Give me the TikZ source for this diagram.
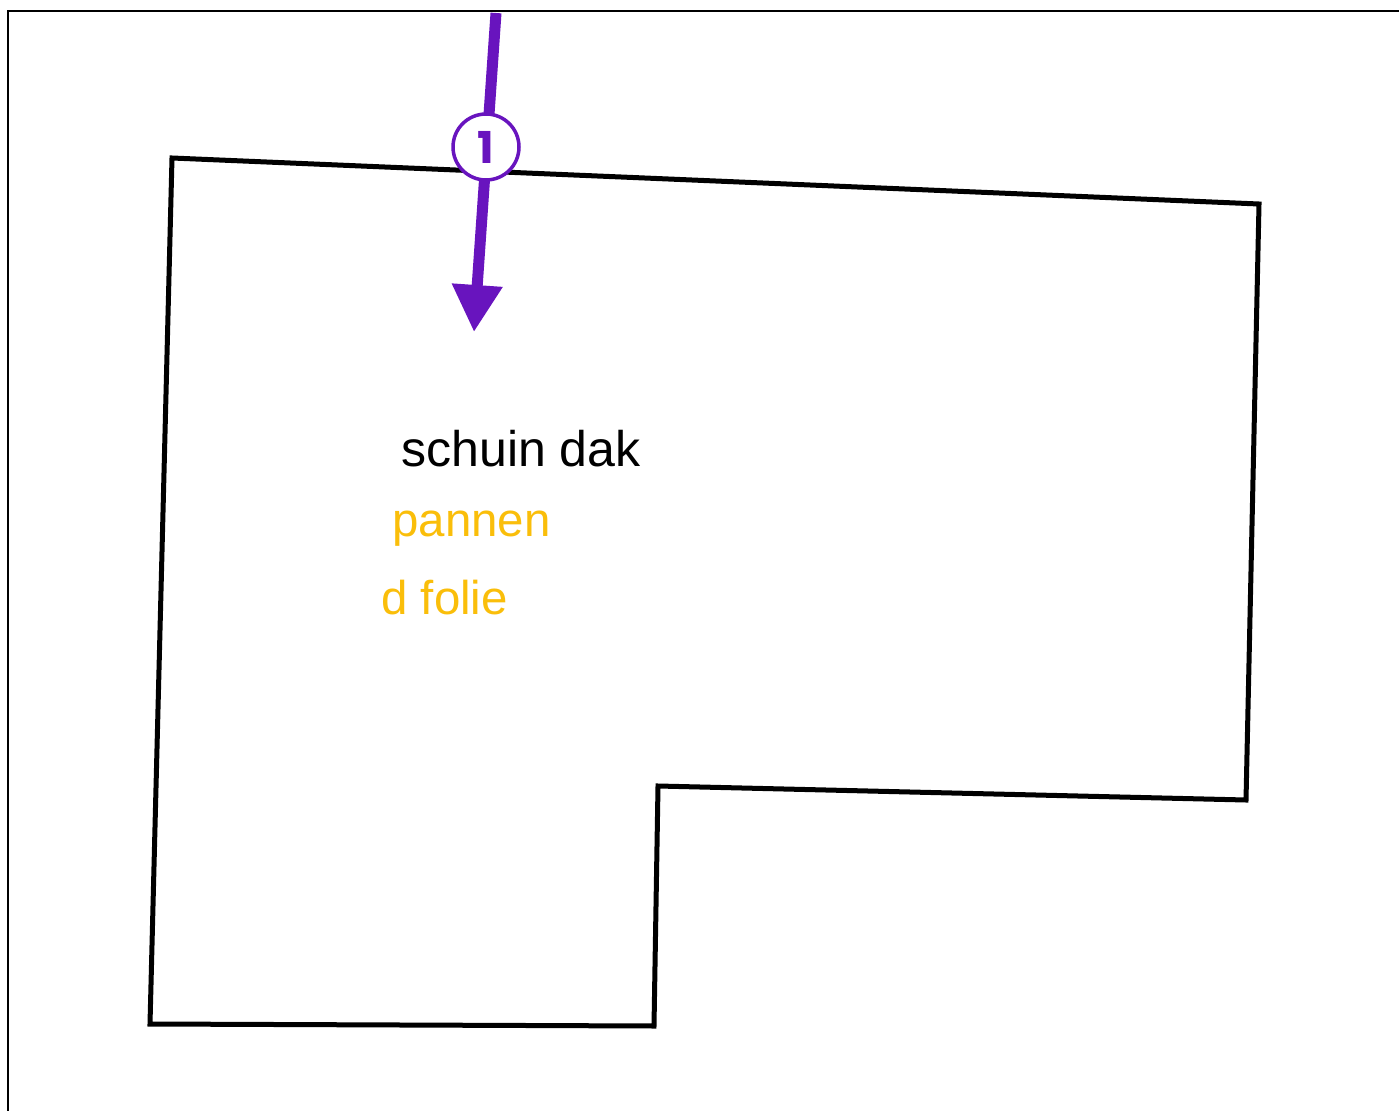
\documentclass[tikz,border=0pt]{standalone}
\usepackage{fontspec}
\setmainfont{Liberation Sans}
\newfontfamily\badgefont{Poppins}
\usetikzlibrary{arrows.meta}

\definecolor{route}{RGB}{104,20,190}
\definecolor{layer}{RGB}{250,190,10}

\tikzset{
    roof/.style={line width=0.1cm, line join=miter},
    roof text/.style={anchor=base west, inner sep=0pt, font=\fontsize{27}{32}\selectfont},
}

\begin{document}
\begin{tikzpicture}[x=0.02cm, y=-0.02cm]
    \useasboundingbox (0, 0) rectangle (1399, 1111);
    \fill [white] (0, 0) rectangle (1399, 1111);
    % frame
    \draw [line width=0.05cm] (8, 1111) -- (8, 11) -- (1399, 11);
    % roof outline
    \draw [roof]
        (172, 158) -- (1259, 204) -- (1246, 800) -- (658, 786)
        -- (654, 1026) -- (150, 1024) -- cycle;
    \node [roof text, font=\fontsize{28.5}{32}\selectfont] (dak) at (401, 466) {schuin dak};
    \node [roof text, text=layer] (pannen) at (392, 536) {pannen};
    \node [roof text, text=layer] (folie) at (381, 614) {d folie};
    % entry arrow
    \coordinate (in) at (496, 13);
    \coordinate (tip) at (474, 332);
    \draw [route, line width=0.22cm, -{Triangle[length=0.94cm, width=0.96cm]}]
        (in) -- (tip);
    \node [circle, draw=route, fill=white, line width=0.07cm, minimum size=1.32cm,
        inner sep=0pt, text=route, font=\badgefont\bfseries\fontsize{25}{25}\selectfont]
        (one) at (486, 147) {1};
\end{tikzpicture}
\end{document}
